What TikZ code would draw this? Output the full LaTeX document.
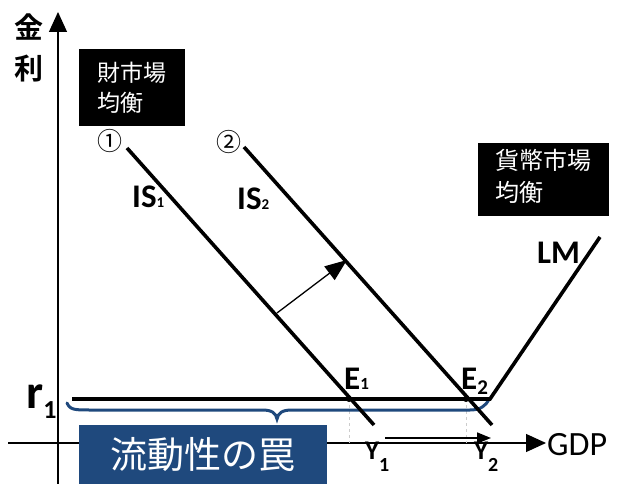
\documentclass[tikz,border=0pt]{standalone}
\usepackage{fontspec}
\setmainfont{Carlito}
\newfontfamily\jp{Noto Sans CJK JP}
\newfontfamily\jpb{Noto Sans CJK JP Bold}
\usetikzlibrary{arrows.meta}
\definecolor{trapblue}{RGB}{31,73,125}
\tikzset{
  lbl/.style={inner sep=0pt, anchor=base west},
  curve/.style={line width=3.6pt},
  axis/.style={line width=1.2pt, -{Triangle[length=20pt,width=18pt]}},
}
\newcommand{\fs}[1]{\fontsize{#1}{#1}\selectfont}
\begin{document}
\begin{tikzpicture}[x=1pt,y=-1pt]
\useasboundingbox (0,0) rectangle (622,484);
% axes
\coordinate (yb) at (58,484);
\coordinate (yt) at (58,12);
\coordinate (xl) at (8,443);
\coordinate (xr) at (546,443);
\draw[axis] (yb) -- (yt);
\draw[axis] (xl) -- (xr);
\node[lbl] (gdp) at (547,455) {\fs{34}GDP};
\node[inner sep=0pt] (kin) at (29,27) {\jpb\fs{29}金};
\node[inner sep=0pt] (ri) at (29,69) {\jpb\fs{29}利};
% boxes
\fill (79,49) rectangle (185,126);
\node[lbl, text=white] (b1a) at (97,82) {\jp\fs{23}財市場};
\node[lbl, text=white] (b1b) at (97,112) {\jp\fs{23}均衡};
\fill (478,143) rectangle (609,216);
\node[lbl, text=white] (b2a) at (495,170) {\jp\fs{24}貨幣市場};
\node[lbl, text=white] (b2b) at (495,202) {\jp\fs{24}均衡};
% dashed guides
\coordinate (E1) at (349,399);
\coordinate (E2) at (466,399);
\coordinate (E1b) at (349,443);
\coordinate (E2b) at (466,443);
\draw[gray!40, dashed, line width=0.6pt] (E1) -- (E1b);
\draw[gray!40, dashed, line width=0.6pt] (E2) -- (E2b);
% brace
\coordinate (bl) at (67,403);
\coordinate (br) at (489,399);
\draw[trapblue, line width=3pt, line cap=round]
  (bl) .. controls (70,410) and (75,410) .. (90,410)
  -- (262,410) .. controls (272,410) and (276,413) .. (277,419)
  .. controls (278,413) and (282,410) .. (292,410)
  -- (470,410) .. controls (480,410) and (486,406) .. (br);
% IS curves
\coordinate (is1a) at (127,148);
\coordinate (is1b) at (374,425);
\coordinate (is2a) at (244,147);
\coordinate (is2b) at (492,425);
\draw[curve] (is1a) -- (is1b);
\draw[curve] (is2a) -- (is2b);
% flat + LM
\coordinate (fl) at (72,399);
\coordinate (kink) at (490,399);
\coordinate (lmt) at (600,237);
\draw[curve, line join=miter] (fl) -- (kink) -- (lmt);
\fill (E1) circle (3pt);
\fill (E2) circle (3pt);
% shift arrow
\coordinate (sa) at (277,313);
\coordinate (sb) at (347,260);
\draw[line width=1.3pt, -{Triangle[length=22pt,width=17pt]}] (sa) -- (sb);
% Y arrow
\coordinate (ya) at (385,438);
\coordinate (yb2) at (491,438);
\draw[line width=1.6pt, -{Triangle[length=14pt,width=11pt]}] (ya) -- (yb2);
% labels
\node[inner sep=0pt] (c1) at (110,141) {\jp\fs{25}①};
\node[inner sep=0pt] (c2) at (229,142) {\jp\fs{25}②};
\node[lbl] (is1) at (132,208) {\bfseries\fs{33}IS\fs{15}1};
\node[lbl] (is2) at (237,210) {\bfseries\fs{33}IS\fs{15}2};
\node[lbl] (lm) at (537,264) {\bfseries\fs{33}LM};
\node[lbl] (e1) at (344,389) {\bfseries\fs{33}E\fs{17}1};
\node[lbl] (e2) at (461,389) {\bfseries\fs{33}E\raisebox{-5pt}{\fs{21}2}};
\node[lbl] (y1) at (365,459) {\bfseries\fs{27}Y\raisebox{-12pt}{\fs{20}1}};
\node[lbl] (y2) at (474,459) {\bfseries\fs{27}Y\raisebox{-12pt}{\fs{20}2}};
\node[lbl] (r1) at (26,408) {\bfseries\fs{48}r\raisebox{-10pt}{\fs{26}1}};
% trap box
\fill[trapblue] (79,425) rectangle (327,484);
\node[inner sep=0pt, text=white] (trap) at (203,455) {\jp\fs{37}流動性の罠};
\end{tikzpicture}
\end{document}
